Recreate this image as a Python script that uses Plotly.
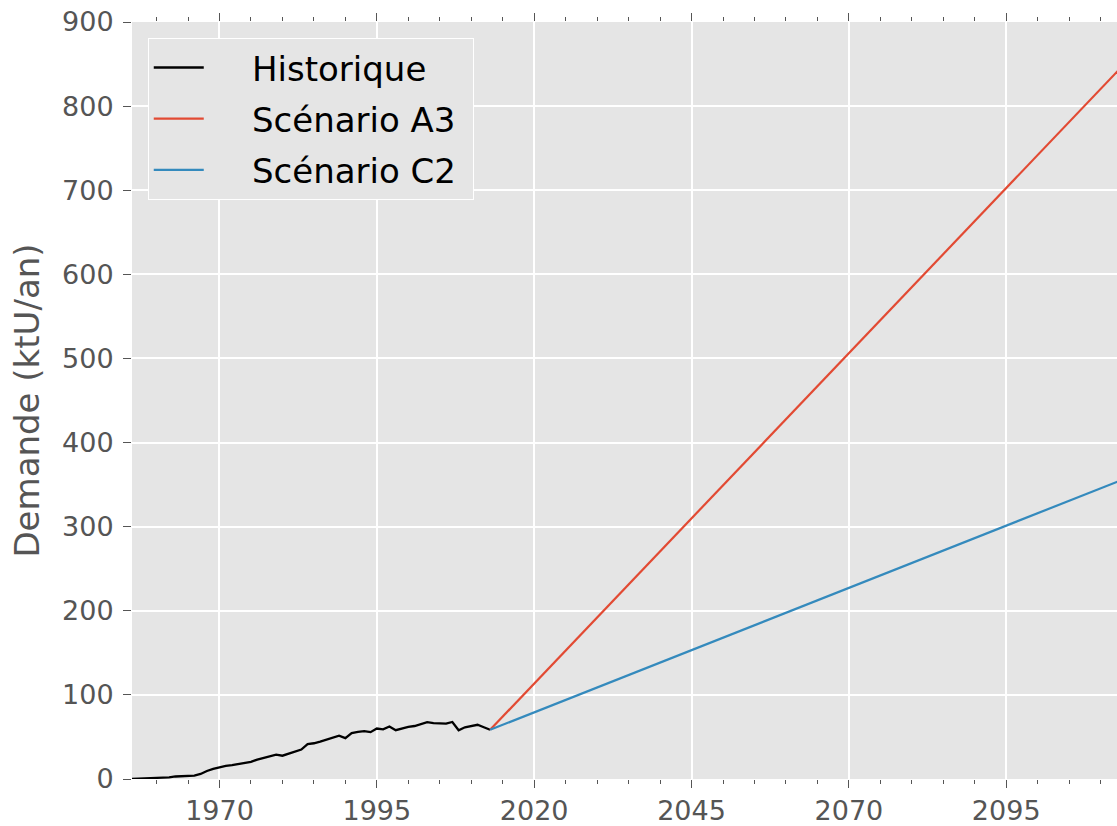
import plotly.graph_objects as go

hist_years = list(range(1956, 2014))
hist_values = [0, 0.2, 0.4, 0.6, 0.8, 1.2, 2, 3, 3.5, 3.8,
               4, 6, 9.5, 12, 14, 15.5, 16.5, 17.8, 19, 20.5,
               23, 25, 27, 29, 27.7, 30, 32, 35, 41.5, 42.5,
               44.5, 47, 49, 51.5, 48.6, 54.5, 56, 57, 55.7, 60,
               59, 62.5, 58, 60, 62, 63, 65, 67.5, 66.5, 66,
               65.8, 67.8, 58, 61.5, 63, 64.5, 61.5, 58.5]

scen_years = [2013, 2113]
a3_values = [58.5, 844]
c2_values = [58.5, 354.5]

x_tickvals = [1970, 1995, 2020, 2045, 2070, 2095]
y_tickvals = [0, 100, 200, 300, 400, 500, 600, 700, 800, 900]

pad = "\u00a0" * 4
fig = go.Figure()
fig.add_trace(go.Scatter(x=hist_years, y=hist_values, mode="lines",
                         name=pad + "Historique" + "\u00a0", line=dict(color="black", width=2.3),
                         legendgroup="h"))
fig.add_trace(go.Scatter(x=scen_years, y=a3_values, mode="lines",
                         name=pad + "Scénario A3" + "\u00a0", line=dict(color="#E24A33", width=2.2),
                         legendgroup="a"))
fig.add_trace(go.Scatter(x=scen_years, y=c2_values, mode="lines",
                         name=pad + "Scénario C2" + "\u00a0", line=dict(color="#348ABD", width=2.2),
                         legendgroup="c"))

tickfont = dict(family="DejaVu Sans", size=27, color="#555555")
fig.update_layout(
    width=1117, height=826,
    margin=dict(l=132, r=0, t=22, b=45),
    paper_bgcolor="white",
    plot_bgcolor="#E5E5E5",
    showlegend=True,
    legend=dict(x=0.016, y=0.979, xanchor="left", yanchor="top",
                bgcolor="#E5E5E5", bordercolor="white", borderwidth=1,
                font=dict(family="DejaVu Sans", size=34, color="black"),
                tracegroupgap=4, itemwidth=50),
    xaxis=dict(range=[1956.1, 2112.6], tickvals=x_tickvals,
               ticks="outside", ticklen=8, tickwidth=1, tickcolor="#555555",
               mirror="ticks", showline=False, zeroline=False,
               showgrid=True, gridcolor="white", gridwidth=1.5,
               tickfont=tickfont,
               minor=dict(dtick=5, tick0=1970, ticks="outside", ticklen=4,
                          tickcolor="#555555", showgrid=False)),
    yaxis=dict(range=[0, 900], tickvals=y_tickvals,
               ticks="outside", ticklen=8, tickwidth=1, tickcolor="#555555",
               showline=False, zeroline=False,
               showgrid=True, gridcolor="white", gridwidth=1.5,
               tickfont=tickfont, ticklabelstandoff=4,
               title=dict(text="Demande (ktU/an)", standoff=12,
                          font=dict(family="DejaVu Sans", size=34, color="#555555"))),
)

fig.write_html("out.html", config={"displayModeBar": False},
               post_script="document.body.style.margin='0px';")
